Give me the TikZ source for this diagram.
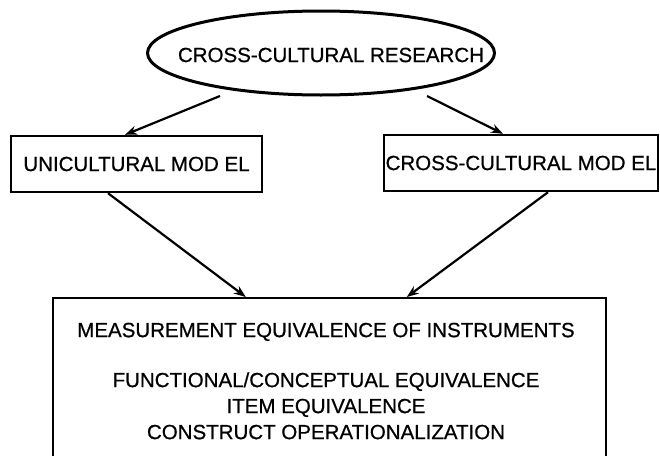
\documentclass[tikz,border=0pt]{standalone}
\usepackage{fontspec}
\setmainfont[FakeBold=0.7,BoldFont=*]{Liberation Sans}
\usetikzlibrary{shapes.geometric,arrows.meta,calc}
\begin{document}
\begin{tikzpicture}[x=1pt,y=-1pt,
  every node/.style={font=\fontsize{20.5}{26}\selectfont\bfseries},
  modelbox/.style={draw,line width=2.4pt,inner sep=0pt,minimum height=56pt},
  link/.style={line width=2.2pt,-{Stealth[length=12pt,width=9pt]}}]
\useasboundingbox (0,0) rectangle (660,455);
\clip (0,0) rectangle (660,455);

% top ellipse and its caption
\node[ellipse,draw,line width=3pt,minimum width=347pt,minimum height=84pt,inner sep=0pt] (res) at (321,53) {};
\node (restext) at (331,55) {CROSS-CULTURAL RESEARCH};

% the two models
\node[modelbox,minimum width=251pt] (uni) at (136.5,164) {UNICULTURAL MOD EL};
\node[modelbox,minimum width=274pt] (cross) at (521,163) {CROSS-CULTURAL MOD EL};

% measurement box (runs off the lower edge)
\node[draw,line width=2.4pt,inner sep=0pt,minimum width=553pt,minimum height=190pt,anchor=north] (meas) at (329.5,297) {};
\node[align=center,anchor=north,inner sep=0pt] (meastext) at (326,322.6) {MEASUREMENT EQUIVALENCE OF INSTRUMENTS\\[24pt]
FUNCTIONAL/CONCEPTUAL EQUIVALENCE\\
ITEM EQUIVALENCE\\
CONSTRUCT OPERATIONALIZATION};

% connectors
\draw[link] ($(res.center)+(-101,43)$) -- ($(uni.north)+(-11.5,0)$);
\draw[link] ($(res.center)+(106,43)$) -- ($(cross.north)+(-18,0)$);
\draw[link] ($(uni.south)+(-28.5,0)$) -- ($(meas.north west)+(194,0)$);
\draw[link] ($(cross.south)+(27,0)$) -- ($(meas.north west)+(355,0)$);
\end{tikzpicture}
\end{document}
